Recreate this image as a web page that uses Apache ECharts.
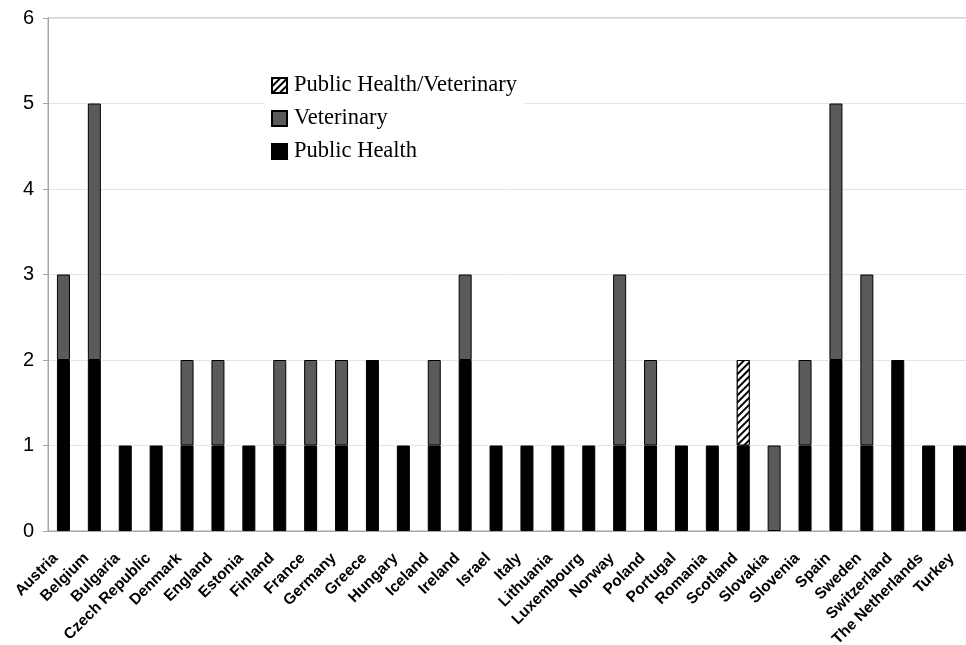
<!DOCTYPE html>
<html>
<head>
<meta charset="utf-8">
<script src="https://cdn.jsdelivr.net/npm/echarts@6/dist/echarts.min.js"></script>
<style>
  html, body { margin: 0; padding: 0; background: #fff; }
  #chart { width: 966px; height: 645px; }
</style>
</head>
<body>
<div id="chart"></div>
<script>
const countries = [
  "Austria", "Belgium", "Bulgaria", "Czech Republic", "Denmark", "England",
  "Estonia", "Finland", "France", "Germany", "Greece", "Hungary", "Iceland",
  "Ireland", "Israel", "Italy", "Lithuania", "Luxembourg", "Norway", "Poland",
  "Portugal", "Romania", "Scotland", "Slovakia", "Slovenia", "Spain", "Sweden",
  "Switzerland", "The Netherlands", "Turkey"
];
const publicHealth = [2, 2, 1, 1, 1, 1, 1, 1, 1, 1, 2, 1, 1, 2, 1, 1, 1, 1, 1, 1, 1, 1, 1, 0, 1, 2, 1, 2, 1, 1];
const veterinary   = [1, 3, 0, 0, 1, 1, 0, 1, 1, 1, 0, 0, 1, 1, 0, 0, 0, 0, 2, 1, 0, 0, 0, 1, 1, 3, 2, 0, 0, 0];
const publicHealthVeterinary = [0, 0, 0, 0, 0, 0, 0, 0, 0, 0, 0, 0, 0, 0, 0, 0, 0, 0, 0, 0, 0, 0, 1, 0, 0, 0, 0, 0, 0, 0];
const yTicks = [0, 1, 2, 3, 4, 5, 6];

// zero -> '-' so no empty bar outline is drawn
const noZero = (arr) => arr.map((v) => (v === 0 ? "-" : v));

const chart = echarts.init(document.getElementById("chart"));

const option = {
  animation: false,
  grid: {
    left: 48,
    top: 18,
    width: 927, // plot runs past the right edge of the picture
    height: 513,
    outerBoundsMode: "none",
    containLabel: false,
    show: true,
    borderColor: "#a6a6a6",
    borderWidth: 1,
  },
  legend: {
    data: ["Public Health/Veterinary", "Veterinary", "Public Health"],
    orient: "vertical",
    left: 265,
    top: 70,
    backgroundColor: "#fff",
    padding: [4, 8, 6, 6],
    itemWidth: 15,
    itemHeight: 15,
    itemGap: 10,
    icon: "rect",
    selectedMode: false,
    textStyle: {
      fontFamily: "Liberation Serif",
      fontSize: 22.5,
      lineHeight: 22,
      color: "#000",
      padding: [0, 0, 0, 2],
    },
  },
  xAxis: {
    type: "category",
    data: countries,
    axisLine: { lineStyle: { color: "#a6a6a6" } },
    axisTick: { length: 5, lineStyle: { color: "#a6a6a6" } },
    axisLabel: {
      interval: 0,
      rotate: 45,
      margin: 17,
      padding: [0, 11, 0, 0],
      fontFamily: "Liberation Sans",
      fontWeight: "bold",
      fontSize: 15.5,
      color: "#000",
    },
  },
  yAxis: {
    type: "value",
    min: yTicks[0],
    max: yTicks[yTicks.length - 1],
    interval: 1,
    axisLine: { show: true, lineStyle: { color: "#a6a6a6" } },
    axisTick: { show: true, length: 5, lineStyle: { color: "#a6a6a6" } },
    splitLine: { lineStyle: { color: "#e4e4e4" } },
    axisLabel: {
      margin: 14,
      fontFamily: "Liberation Sans",
      fontSize: 20,
      color: "#000",
    },
  },
  series: [
    {
      name: "Public Health",
      type: "bar",
      stack: "total",
      barWidth: 13,
      data: noZero(publicHealth),
      itemStyle: { color: "#000", borderColor: "#000", borderWidth: 1 },
    },
    {
      name: "Veterinary",
      type: "bar",
      stack: "total",
      barWidth: 13,
      data: noZero(veterinary),
      itemStyle: { color: "#5a5a5a", borderColor: "#000", borderWidth: 1 },
    },
    {
      name: "Public Health/Veterinary",
      type: "bar",
      stack: "total",
      barWidth: 13,
      data: noZero(publicHealthVeterinary),
      itemStyle: {
        color: "#fff",
        borderColor: "#000",
        borderWidth: 1,
        decal: {
          symbol: "rect",
          symbolSize: 1,
          dashArrayX: [1, 0],
          dashArrayY: [2, 3],
          rotation: -Math.PI / 4,
          color: "#000",
          backgroundColor: "#fff",
        },
      },
    },
  ],
};

chart.setOption(option);
</script>
</body>
</html>
